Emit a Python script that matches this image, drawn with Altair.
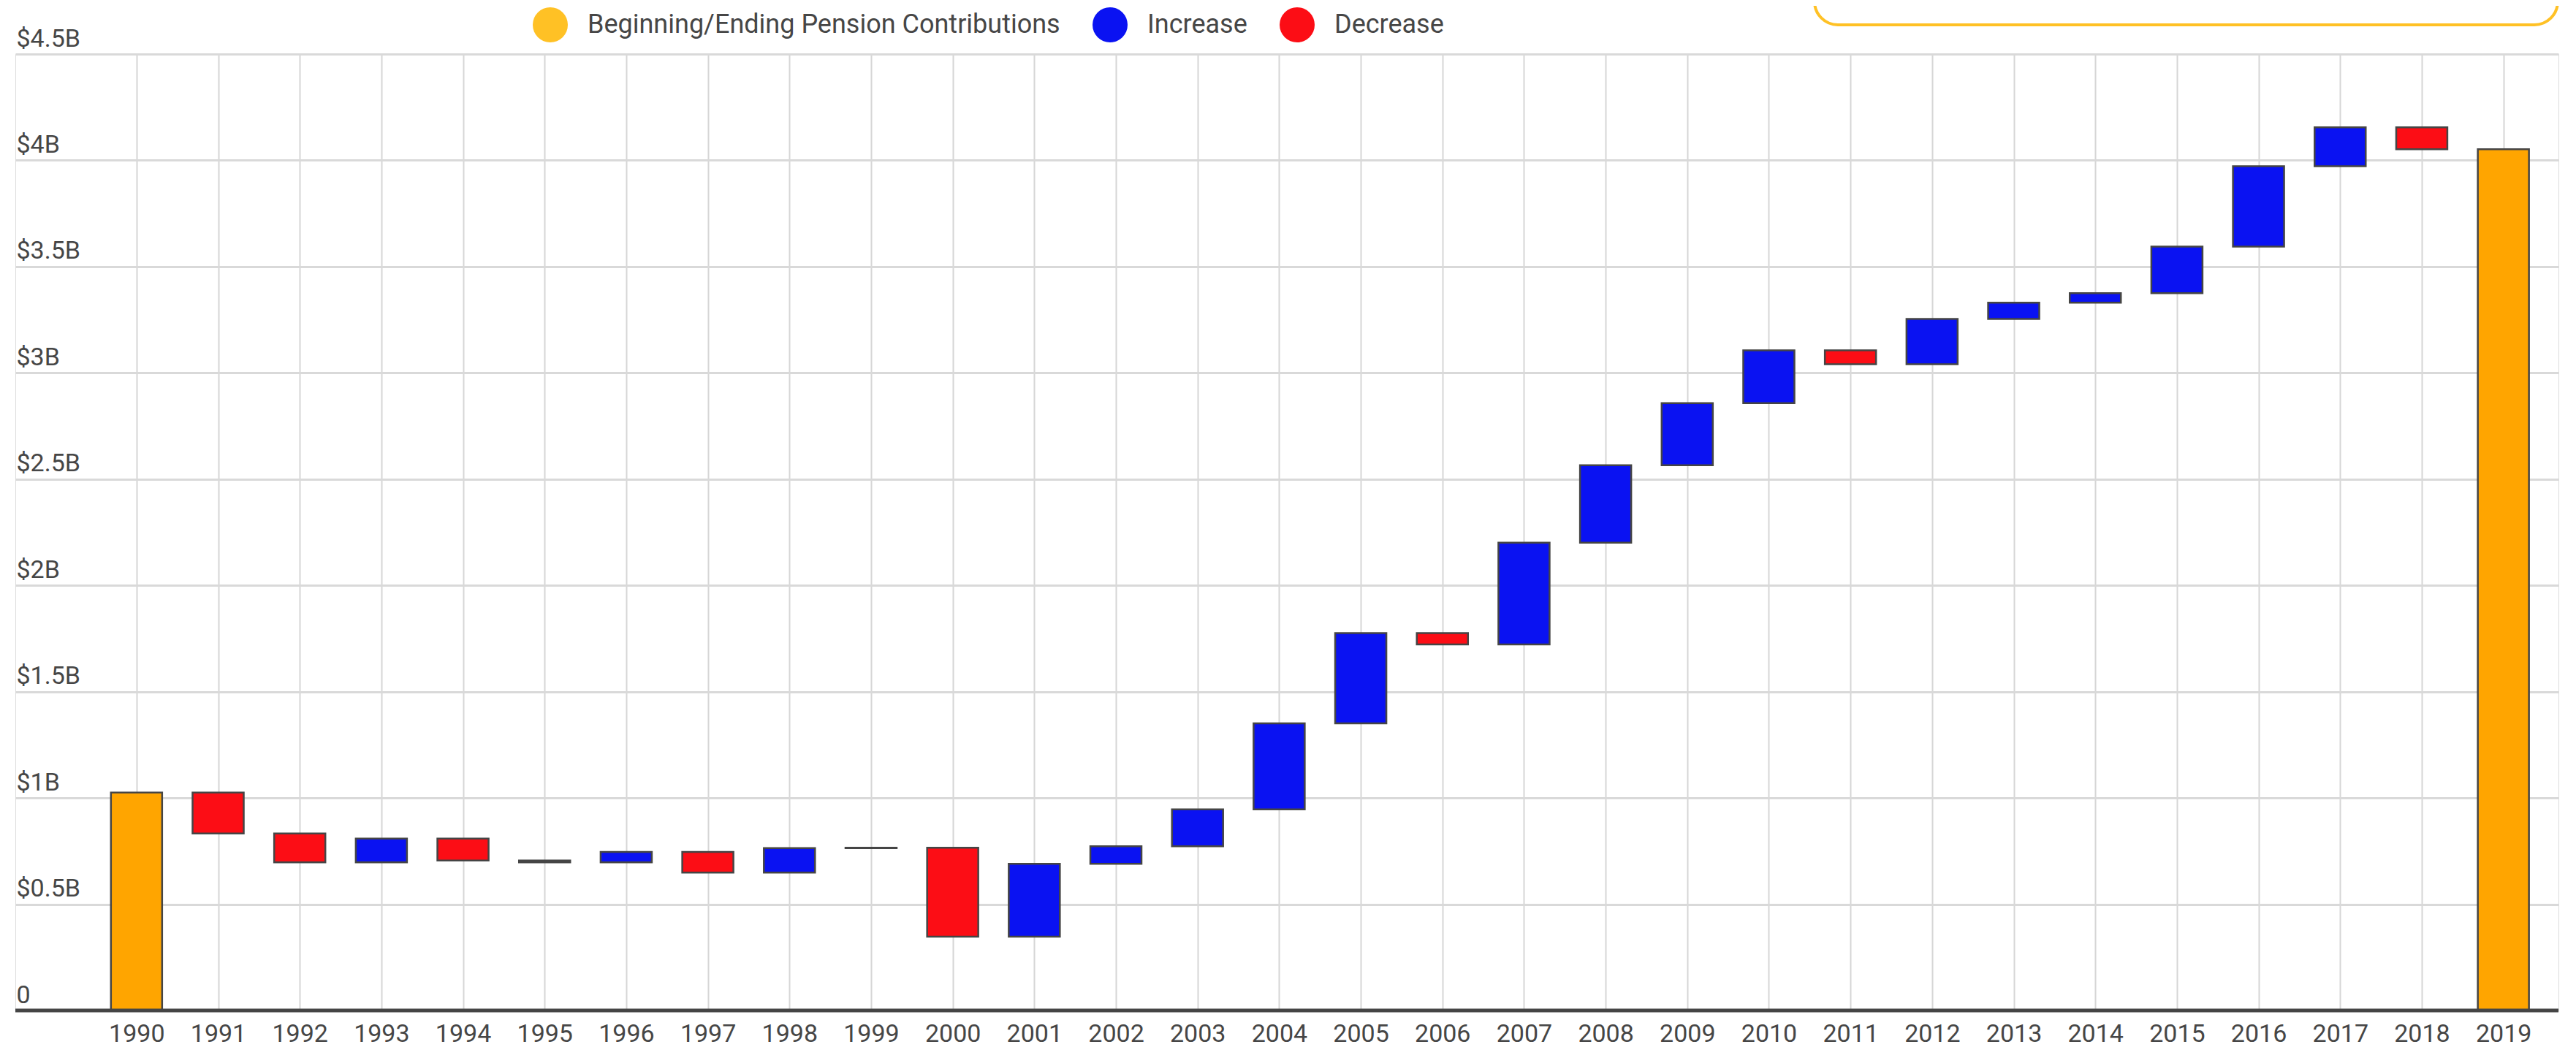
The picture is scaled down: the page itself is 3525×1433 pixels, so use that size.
import altair as alt
import pandas as pd

# ---- data (billions of dollars) ----
years = list(range(1990, 2020))
start_total = 1.025  # 1990 beginning contributions
changes = [  # yearly change 1991..2018
    -0.192, -0.136, 0.112, -0.103, -0.009, 0.049, -0.097, 0.115, 0.002,
    -0.419, 0.343, 0.083, 0.173, 0.405, 0.425, -0.054, 0.479, 0.364,
    0.293, 0.248, -0.065, 0.213, 0.076, 0.045, 0.219, 0.378, 0.183, -0.103,
]
kinds = ["Beginning/Ending Pension Contributions", "Increase", "Decrease"]
bar_colors = ["#FFA500", "#0A12F2", "#FC0D15"]
legend_colors = ["#FFC125", "#0A12F2", "#FC0D15"]
y_ticks = [0, 0.5, 1, 1.5, 2, 2.5, 3, 3.5, 4, 4.5]

rows = []
level = start_total
rows.append({"year": years[0], "start": 0.0, "end": level, "kind": kinds[0]})
for yr, d in zip(years[1:-1], changes):
    new = level + d
    rows.append({"year": yr, "start": level, "end": new,
                 "kind": kinds[1] if d >= 0 else kinds[2]})
    level = new
rows.append({"year": years[-1], "start": 0.0, "end": level, "kind": kinds[0]})
df = pd.DataFrame(rows)

FONT = "Roboto"
TXT = "#464646"

x_enc = alt.X(
    "year:Q",
    scale=alt.Scale(domain=[1988.56, 2019.63], nice=False, zero=False),
    axis=alt.Axis(
        values=years, format="d", grid=True, gridColor="#d6d6d6", gridWidth=2,
        domain=False, ticks=False, tickSize=0, labelFontSize=34, labelColor=TXT,
        labelFont=FONT, labelPadding=15, title=None, labelFlush=False,
        labelOverlap=False,
    ),
)
y_enc = alt.Y(
    "start:Q",
    scale=alt.Scale(domain=[0, 4.5], nice=False),
    axis=alt.Axis(
        values=y_ticks,
        labelExpr="datum.value == 0 ? '0' : '$' + datum.value + 'B'",
        grid=True, gridColor="#d9d9d9", gridWidth=3, domain=False, ticks=False,
        tickSize=0, labelAlign="left", labelBaseline="alphabetic",
        labelPadding=-1, labelOffset=-11, labelFontSize=34, labelColor=TXT,
        labelFont=FONT, title=None,
    ),
)

base = alt.Chart(df)

bars = base.mark_bar(width=70, stroke="#454545", strokeWidth=2.5).encode(
    x=x_enc,
    y=y_enc,
    y2="end:Q",
    color=alt.Color("kind:N", scale=alt.Scale(domain=kinds, range=bar_colors),
                    legend=None),
)

legend_layer = base.mark_point(filled=True, opacity=0, size=1).encode(
    x="year:Q",
    y="start:Q",
    fill=alt.Fill(
        "kind:N",
        scale=alt.Scale(domain=kinds, range=legend_colors),
        legend=alt.Legend(
            orient="none", legendX=708, legendY=-64, direction="horizontal",
            title=None, symbolType="circle", symbolSize=2304,
            symbolOpacity=1, symbolStrokeWidth=0, labelFontSize=36,
            labelFont=FONT, labelColor=TXT, labelOffset=27, columnPadding=44,
            labelLimit=2000, padding=0,
        ),
    ),
)

baseline = alt.Chart(pd.DataFrame({"v": [0]})).mark_rule(
    color="#454545", strokeWidth=5
).encode(y="v:Q")

box = alt.Chart(pd.DataFrame({"v": [0]})).mark_rect(
    fill="white", fillOpacity=0, stroke="#FFC125", strokeWidth=4, cornerRadius=32
).encode(
    x=alt.value(2462), x2=alt.value(3479), y=alt.value(-200), y2=alt.value(-40)
)

chart = alt.layer(bars, legend_layer, baseline, box).resolve_scale(
    color="independent", fill="independent"
).properties(
    width=3480, height=1309,
    autosize=alt.AutoSizeParams(type="none"),
    padding={"left": 13, "top": 66, "right": 4, "bottom": 50},
).configure_view(stroke=None).configure(background="white")

chart.save("out.html", embed_options={"renderer": "svg", "actions": False})
